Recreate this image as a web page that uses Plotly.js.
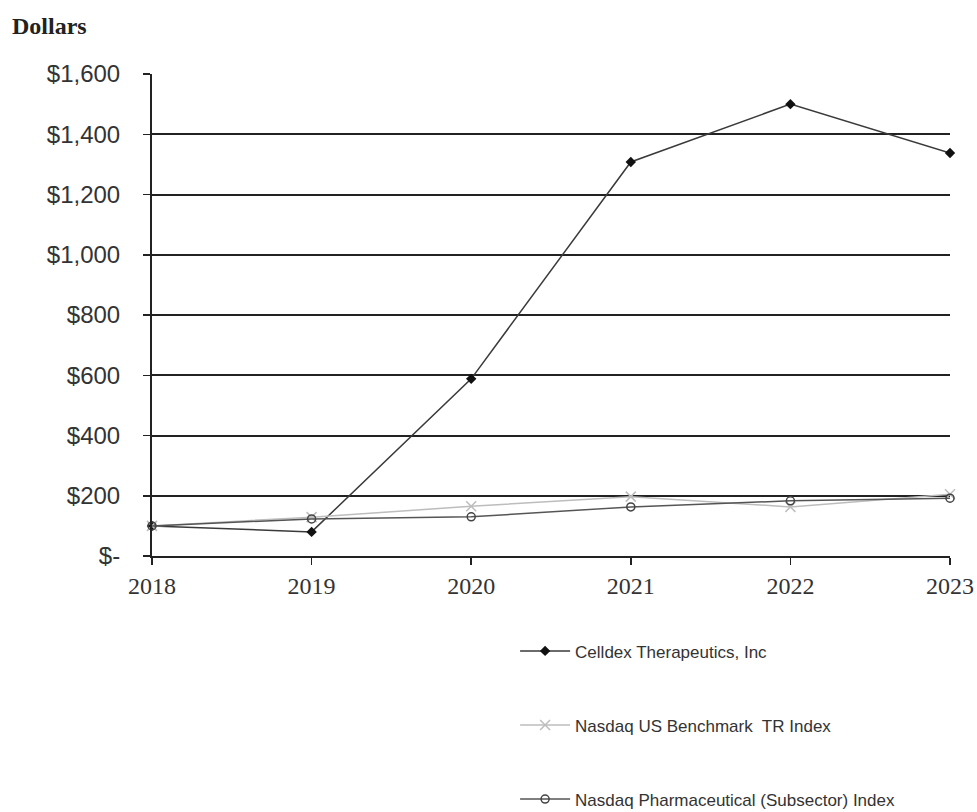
<!DOCTYPE html>
<html>
<head>
<meta charset="utf-8">
<script src="https://cdn.plot.ly/plotly-3.0.1.min.js"></script>
<style>html,body{margin:0;padding:0;background:#fff;}#chart{width:977px;height:812px;}</style>
</head>
<body>
<div id="chart"></div>
<script>
const years = [2018, 2019, 2020, 2021, 2022, 2023];
const celldex = [100, 80, 588, 1308, 1500, 1338];
const benchmark = [100, 129, 165, 197, 163, 205];
const pharma = [100, 123, 130, 163, 183, 192];
const seriesNames = ["Celldex Therapeutics, Inc", "Nasdaq US Benchmark  TR Index", "Nasdaq Pharmaceutical (Subsector) Index"];
const yTickVals = [0, 200, 400, 600, 800, 1000, 1200, 1400, 1600];
const yTickText = ["$-", "$200", "$400", "$600", "$800", "$1,000", "$1,200", "$1,400", "$1,600"];

const traces = [
  {x: years, y: celldex, name: seriesNames[0], mode: "lines+markers", legendgroup: "a",
   line: {color: "#3a3a3a", width: 1.5}, marker: {symbol: "diamond", size: 8, color: "#111"}, cliponaxis: false},
  {x: years, y: benchmark, name: seriesNames[1], mode: "lines+markers", legendgroup: "b",
   line: {color: "#bdbdbd", width: 1.5}, marker: {symbol: "x-thin", size: 10, line: {color: "#bdbdbd", width: 1.5}}, cliponaxis: false},
  {x: years, y: pharma, name: seriesNames[2], mode: "lines+markers", legendgroup: "c",
   line: {color: "#555", width: 1.5}, marker: {symbol: "circle-open", size: 8, color: "#444", line: {width: 1.5}}, cliponaxis: false}
];

const layout = {
  width: 977, height: 812,
  margin: {l: 152, r: 27, t: 74, b: 256},
  paper_bgcolor: "#fff", plot_bgcolor: "#fff",
  showlegend: true,
  legend: {x: 0.455, xanchor: "left", yref: "container", y: 0.22, yanchor: "top", traceorder: "grouped", tracegroupgap: 49,
           font: {family: "Liberation Sans, Arial, sans-serif", size: 17, color: "#333"}, itemwidth: 50},
  xaxis: {range: [2018, 2023], tickvals: years, ticktext: years.map(String), showgrid: false,
          showline: true, linecolor: "#222", linewidth: 2, ticks: "outside", ticklen: 7, tickcolor: "#222", tickwidth: 1.5,
          zeroline: false, fixedrange: true,
          tickfont: {family: "Liberation Serif, Times New Roman, serif", size: 24, color: "#333"}},
  yaxis: {range: [0, 1600], tickvals: yTickVals, ticktext: yTickText, showgrid: true, gridcolor: "#222", gridwidth: 2,
          showline: true, linecolor: "#222", linewidth: 2, ticks: "outside", ticklen: 7, tickcolor: "#222", tickwidth: 1.5,
          zeroline: false, ticklabelstandoff: 18,
          tickfont: {family: "Liberation Sans, Arial, sans-serif", size: 24, color: "#333"}},
  annotations: [{text: "<b>Dollars</b>", xref: "paper", yref: "paper", x: -0.178, y: 1.1, xanchor: "left", yanchor: "middle", showarrow: false,
                 font: {family: "Liberation Serif, Times New Roman, serif", size: 24, color: "#222"}}]
};
Plotly.newPlot("chart", traces, layout, {displayModeBar: false, staticPlot: true});
</script>
</body>
</html>
